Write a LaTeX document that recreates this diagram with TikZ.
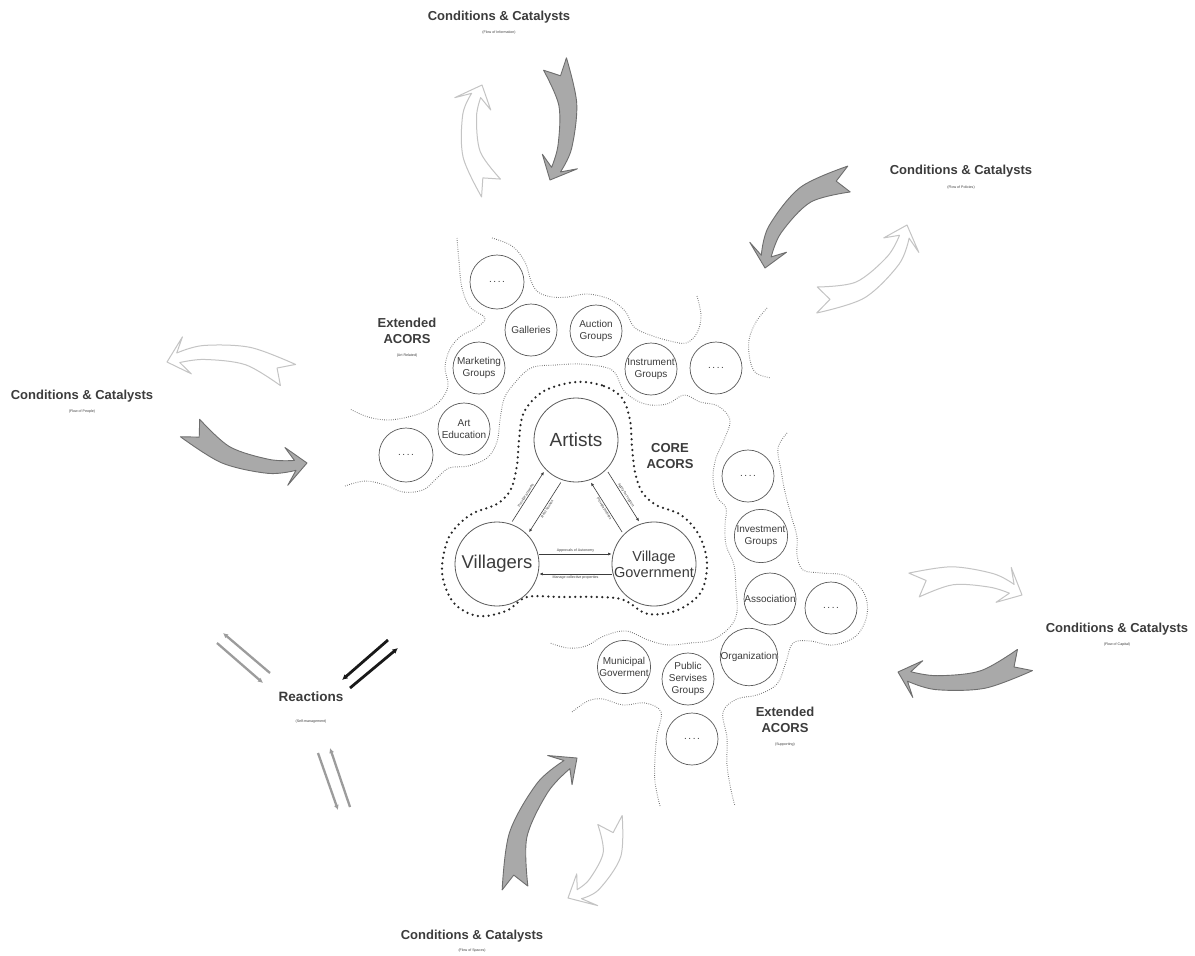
\documentclass[tikz,border=0pt]{standalone}
\usepackage{fontspec}
\setmainfont{Liberation Sans}
\usetikzlibrary{calc,arrows.meta}
\definecolor{ink}{HTML}{3C3C3C}
\definecolor{circ}{HTML}{5A5A5A}
\definecolor{gfill}{HTML}{A9A9A9}
\definecolor{gline}{HTML}{6E6E6E}
\definecolor{wline}{HTML}{C4C4C4}
\definecolor{dotc}{HTML}{707070}
\definecolor{rgray}{HTML}{9C9C9C}
% curved "swoosh" arrow: tail centre (#1,#2), tip (#3,#4), signed sagitta #5, style #6
\newcommand\swoosh[6]{%
 \pgfmathsetmacro\swdx{(#3)-(#1)}%
 \pgfmathsetmacro\swdy{(#4)-(#2)}%
 \pgfmathsetmacro\swc{10*veclen(\swdx/10,\swdy/10)}%
 \pgfmathsetmacro\swnx{-\swdy/\swc}%
 \pgfmathsetmacro\swny{\swdx/\swc}%
 \pgfmathsetmacro\swr{\swc/(8*(#5))*\swc+(#5)/2}%
 \pgfmathsetmacro\swcx{((#1)+(#3))/2-(\swr-(#5))*\swnx}%
 \pgfmathsetmacro\swcy{((#2)+(#4))/2-(\swr-(#5))*\swny}%
 \pgfmathsetmacro\swR{abs(\swr)}%
 \pgfmathsetmacro\swa{atan2((#2)-\swcy,(#1)-\swcx)}%
 \pgfmathsetmacro\swb{atan2((#4)-\swcy,(#3)-\swcx)}%
 \pgfmathsetmacro\swd{mod(\swb-\swa+540,360)-180}%
 \pgfmathsetmacro\swk{180/(pi*\swR)*sign(\swd)}%
 \pgfmathsetmacro\swL{abs(\swd)/180*pi*\swR}%
 \begin{scope}[shift={(\swcx,\swcy)}]
  \path[#6] plot[smooth,tension=0.55] coordinates {({\swa}:{\swR+13}) ({\swa+\swk*0.35*\swL}:{\swR+9}) ({\swa+\swk*0.7*\swL}:{\swR+7}) ({\swa+\swk*(\swL-12)}:{\swR+5})}
   -- ({\swa+\swk*(\swL-21)}:{\swR+19}) -- ({\swa+\swd}:{\swR})
   -- ({\swa+\swk*(\swL-21)}:{\swR-19}) -- ({\swa+\swk*(\swL-12)}:{\swR-5})
   -- plot[smooth,tension=0.55] coordinates {({\swa+\swk*(\swL-12)}:{\swR-5}) ({\swa+\swk*0.7*\swL}:{\swR-7}) ({\swa+\swk*0.35*\swL}:{\swR-9}) ({\swa}:{\swR-13})}
   -- ({\swa+\swk*13}:{\swR}) -- cycle;
 \end{scope}}
\begin{document}
\begin{tikzpicture}[x=1pt,y=-1pt,
  title/.style={font=\fontsize{13}{15.5}\selectfont\bfseries, text=ink, align=center, inner sep=0pt},
  sub/.style={font=\fontsize{3.6}{4}\selectfont, text=ink, inner sep=0pt},
  bigc/.style={circle, draw=circ, line width=0.8pt, fill=white, minimum size=84pt, inner sep=0pt, align=center, text=ink},
  smallc/.style={circle, draw=circ, line width=0.7pt, fill=white, minimum size=52pt, inner sep=0pt, align=center, text=ink, font=\fontsize{10}{12.5}\selectfont},
  blobline/.style={draw=dotc, line width=0.9pt, dash pattern=on 0.7pt off 1.5pt},
  coreline/.style={draw=black!85, line width=2.5pt, dash pattern=on 0pt off 5.4pt, line cap=round},
  corearrow/.style={draw=ink, line width=0.6pt, -{Latex[length=3.5pt,width=3pt]}},
  gswoosh/.style={fill=gfill, draw=gline, line width=0.9pt, line join=round},
  wswoosh/.style={fill=white, draw=wline, line width=1pt, line join=round},
  grayreact/.style={draw=rgray, line width=2.3pt, -{Latex[length=5pt,width=5pt]}},
  blackreact/.style={draw=black!90, line width=2.8pt, -{Latex[length=5.5pt,width=5.5pt]}}
]
\fill[white] (0,0) rectangle (1195,956);
\useasboundingbox (0,0) rectangle (1195,956);

% ---------- extended ACORS outlines ----------
% art related: outer (upper-left) edge
\draw[blobline] plot[smooth, tension=0.6] coordinates {(457,238) (459,262) (462,288) (470,307) (485,318) (476,328) (461,336) (450,349) (445,367) (448,386) (440,401) (426,411) (408,417) (388,420) (368,417) (350,409)};
% art related: upper edge over Galleries / Auction / Instrument
\draw[blobline] plot[smooth, tension=0.6] coordinates {(492,238) (512,246) (525,262) (531,281) (538,292) (552,297) (568,297) (587,294) (609,299) (625,311) (634,327) (650,335) (670,341) (686,343) (697,333) (701,316) (697,296)};
% art related: right end
\draw[blobline] plot[smooth, tension=0.6] coordinates {(767,308) (756,322) (749,340) (750,360) (756,373) (771,378)};
% inner edge: art related -> channel -> supporting (left side)
\draw[blobline] plot[smooth, tension=0.6] coordinates {(345,486) (365,481) (385,485) (403,492) (423,490) (436,479) (449,468) (468,466) (487,458) (497,442) (500,420) (504,399) (513,385) (531,368) (556,365) (580,364) (604,367) (615,373) (625,392) (645,404) (667,404) (684,395) (700,402) (718,406) (730,420) (724,440) (716,458) (713,478) (717,497) (726,508) (725,525) (726,545) (734,565) (736,590) (737,612) (730,627) (712,640) (690,643) (668,645) (648,640) (626,631) (604,636) (586,646) (568,648) (550,643)};
% supporting: outer (right) edge
\draw[blobline] plot[smooth, tension=0.6] coordinates {(787,433) (778,448) (781,470) (785,492) (791,515) (797,537) (797,555) (803,570) (822,573) (846,576) (864,593) (867,615) (856,636) (833,645) (810,641) (793,643) (786,662) (777,684) (757,695) (737,699) (723,712) (727,738) (727,765) (731,790) (735,806)};
% supporting: lower-left edge
\draw[blobline] plot[smooth, tension=0.6] coordinates {(660,806) (655,782) (655,758) (657,735) (661,712) (645,703) (623,705) (603,699) (588,701) (572,712)};

% ---------- core outline ----------
\draw[coreline] plot[smooth cycle, tension=0.55] coordinates {
 (576,382) (604,386) (622,398) (630,420) (632,447) (635,472) (642,492) (656,505) (681,515) (699,535) (707,563)
 (701,592) (678,610) (648,614) (624,600) (600,597) (560,597) (527,597) (506,611) (477,616) (453,602) (442,572)
 (449,537) (470,515) (497,504) (511,489) (517,465) (519,440) (524,412) (544,391)};

% ---------- core actors ----------
\node[bigc, font=\fontsize{19}{21}\selectfont] (A) at (576,440) {Artists};
\node[bigc, font=\fontsize{18.5}{21}\selectfont] (V) at (497,564) {Villagers};
\node[bigc, font=\fontsize{14.5}{16}\selectfont] (G) at (654,564) {Village\\Government};

\draw[corearrow] ($(V)!44pt!(A)!10pt!90:(A)$) -- ($(A)!44pt!(V)!10pt!-90:(V)$) node[midway, sloped, above=1pt, sub]{Provide artworks};
\draw[corearrow] ($(A)!44pt!(V)!10pt!90:(V)$) -- ($(V)!44pt!(A)!10pt!-90:(A)$) node[midway, sloped, below=1pt, sub]{Rent houses};
\draw[corearrow] ($(A)!44pt!(G)!10pt!90:(G)$) -- ($(G)!44pt!(A)!10pt!-90:(A)$) node[midway, sloped, above=1pt, sub]{Apply for support};
\draw[corearrow] ($(G)!44pt!(A)!10pt!90:(A)$) -- ($(A)!44pt!(G)!10pt!-90:(G)$) node[midway, sloped, below=1pt, sub]{Provide policies};
\draw[corearrow] ($(V.east)+(0,-10)$) -- ($(G.west)+(0,-10)$) node[midway, above=1.5pt, sub]{Approvals of Autonomy};
\draw[corearrow] ($(G.west)+(0,10)$) -- ($(V.east)+(0,10)$) node[midway, below=1.5pt, sub]{Manage collective properties};

\node[title] (core) at (670,456) {CORE\\ACORS};

% ---------- extended ACORS (art related) ----------
\node[smallc, minimum size=54pt] (ta) at (497,282) {.\hspace{1.6pt}.\hspace{1.6pt}.\hspace{1.6pt}.};
\node[smallc] (gal) at (531,330) {Galleries};
\node[smallc] (auc) at (596,331) {Auction\\Groups};
\node[smallc] (mkt) at (479,368) {Marketing\\Groups};
\node[smallc] (ins) at (651,369) {Instrument\\Groups};
\node[smallc] (ra) at (716,368) {.\hspace{1.6pt}.\hspace{1.6pt}.\hspace{1.6pt}.};
\node[smallc] (edu) at (464,429) {Art\\Education};
\node[smallc, minimum size=54pt] (la) at (406,455) {.\hspace{1.6pt}.\hspace{1.6pt}.\hspace{1.6pt}.};
\node[title] (exta) at (407,331) {Extended\\ACORS};
\node[sub] (extas) at (407,356) {(Art Related)};

% ---------- extended ACORS (supporting) ----------
\node[smallc] (ts) at (748,476) {.\hspace{1.6pt}.\hspace{1.6pt}.\hspace{1.6pt}.};
\node[smallc] (inv) at (761,536) {Investment\\Groups};
\node[smallc] (ass) at (770,599) {Association};
\node[smallc] (rs) at (831,608) {.\hspace{1.6pt}.\hspace{1.6pt}.\hspace{1.6pt}.};
\node[smallc] (org) at (749,657) {Organization};
\node[smallc, font=\fontsize{10}{12}\selectfont] (pub) at (688,679) {Public\\Servises\\Groups};
\node[smallc] (mun) at (624,667) {Municipal\\Goverment};
\node[smallc] (bs) at (692,739) {.\hspace{1.6pt}.\hspace{1.6pt}.\hspace{1.6pt}.};
\node[title] (exts) at (785,720) {Extended\\ACORS};
\node[sub] (extss) at (785,745) {(Supporting)};

% ---------- conditions & catalysts ----------
\node[title] (c1) at (499,17) {Conditions \& Catalysts};
\node[sub] (c1s) at (499,33) {(Flow of Information)};
\node[title] (c2) at (961,171) {Conditions \& Catalysts};
\node[sub] (c2s) at (961,188) {(Flow of Policies)};
\node[title] (c3) at (82,396) {Conditions \& Catalysts};
\node[sub] (c3s) at (82,412) {(Flow of People)};
\node[title] (c4) at (1117,629) {Conditions \& Catalysts};
\node[sub] (c4s) at (1117,645) {(Flow of Capital)};
\node[title] (c5) at (472,936) {Conditions \& Catalysts};
\node[sub] (c5s) at (472,951) {(Flow of Spaces)};

% ---------- swoosh arrows ----------
\swoosh{555}{64}{550}{180}{-16}{gswoosh}
\swoosh{491}{188}{482}{85}{-18}{wswoosh}
\swoosh{849}{179}{765}{268}{23}{gswoosh}
\swoosh{817}{300}{907}{225}{22}{wswoosh}
\swoosh{288}{375}{167}{362}{16}{wswoosh}
\swoosh{190}{428}{307}{463}{17}{gswoosh}
\swoosh{914}{585}{1022}{595}{-14}{wswoosh}
\swoosh{1025}{660}{898}{672}{-17}{gswoosh}
\swoosh{515}{888}{577}{758}{-22}{gswoosh}
\swoosh{610}{820}{568}{898}{-20}{wswoosh}

% ---------- reactions ----------
\node[title, font=\fontsize{13.5}{15}\selectfont\bfseries] (R) at (311,697) {Reactions};
\node[sub] (Rs) at (311,722) {(Self-management)};
\coordinate (p1) at (270,673); \coordinate (p2) at (223,633);
\coordinate (p3) at (217,643); \coordinate (p4) at (263,683);
\coordinate (q1) at (388,640); \coordinate (q2) at (342,680);
\coordinate (q3) at (350,688); \coordinate (q4) at (398,648);
\coordinate (s1) at (350,807); \coordinate (s2) at (330,748);
\coordinate (s3) at (318,753); \coordinate (s4) at (338,810);
\draw[grayreact] (p1) -- (p2);
\draw[grayreact] (p3) -- (p4);
\draw[blackreact] (q1) -- (q2);
\draw[blackreact] (q3) -- (q4);
\draw[grayreact] (s1) -- (s2);
\draw[grayreact] (s3) -- (s4);
\end{tikzpicture}
\end{document}
